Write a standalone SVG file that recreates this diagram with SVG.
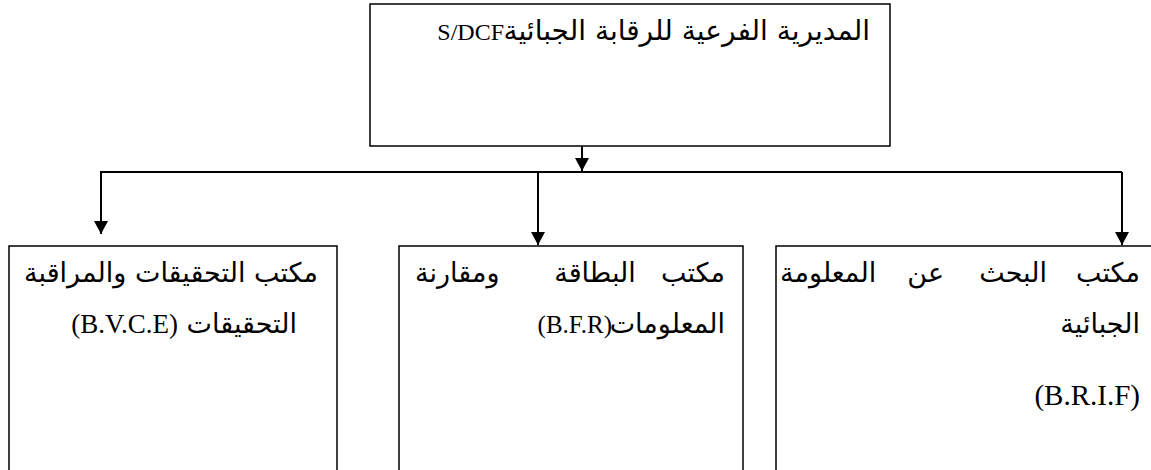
<svg xmlns="http://www.w3.org/2000/svg" width="1151" height="470" viewBox="0 0 1151 470">
<style>
.box{fill:#fff;stroke:#000;stroke-width:1.5}
.conn{stroke:#000;stroke-width:2;fill:none}
.t{font-family:"Liberation Serif","Times New Roman",serif;font-size:27px;fill:#000}
.ar{font-family:"DejaVu Sans","Liberation Sans",sans-serif;font-size:27px;fill:#000}
</style>
<defs>
<marker id="ah" markerUnits="userSpaceOnUse" markerWidth="14" markerHeight="16" refX="13" refY="7" orient="auto" viewBox="0 0 14 14">
<path d="M0,0 L13,7 L0,14 Z" fill="#000"/>
</marker>
</defs>
<g id="top">
<rect class="box" x="370" y="4" width="520" height="142"/>
<text class="ar" x="870" y="40" text-anchor="end" style="font-size:28px">المديرية الفرعية للرقابة الجبائية</text>
<text class="t" x="504" y="40" text-anchor="end" style="font-size:24px">S/DCF</text>
</g>
<g id="connectors">
<line class="conn" x1="582" y1="146" x2="582" y2="171" marker-end="url(#ah)"/>
<polyline class="conn" points="101,180 101,172 1122,172"/>
<line class="conn" x1="101" y1="172" x2="101" y2="234" marker-end="url(#ah)"/>
<line class="conn" x1="538" y1="172" x2="538" y2="245" marker-end="url(#ah)"/>
<line class="conn" x1="1122" y1="172" x2="1122" y2="245" marker-end="url(#ah)"/>
</g>
<g id="bvce">
<rect class="box" x="9" y="246" width="328" height="240"/>
<text class="ar" x="318" y="282" text-anchor="end">مكتب التحقيقات والمراقبة</text>
<text class="ar" x="297" y="333" text-anchor="end">التحقيقات</text>
<text class="t" x="178" y="333" text-anchor="end">(B.V.C.E)</text>
</g>
<g id="bfr">
<rect class="box" x="399" y="246" width="344" height="240"/>
<text class="ar" x="725" y="282" text-anchor="end">مكتب</text>
<text class="ar" x="595" y="282" text-anchor="middle">البطاقة</text>
<text class="ar" x="415" y="282" text-anchor="start">ومقارنة</text>
<text class="ar" x="725" y="333" text-anchor="end">المعلومات</text>
<text class="t" x="612" y="333" text-anchor="end" style="font-size:25px">(B.F.R)</text>
</g>
<g id="brif">
<rect class="box" x="776" y="246" width="400" height="240"/>
<text class="ar" x="1140" y="282" text-anchor="end">مكتب</text>
<text class="ar" x="1047" y="282" text-anchor="end">البحث</text>
<text class="ar" x="944" y="282" text-anchor="end">عن</text>
<text class="ar" x="780" y="282" text-anchor="start">المعلومة</text>
<text class="ar" x="1140" y="333" text-anchor="end">الجبائية</text>
<text class="t" x="1140" y="405" text-anchor="end" style="font-size:29px">(B.R.I.F)</text>
</g>
</svg>
